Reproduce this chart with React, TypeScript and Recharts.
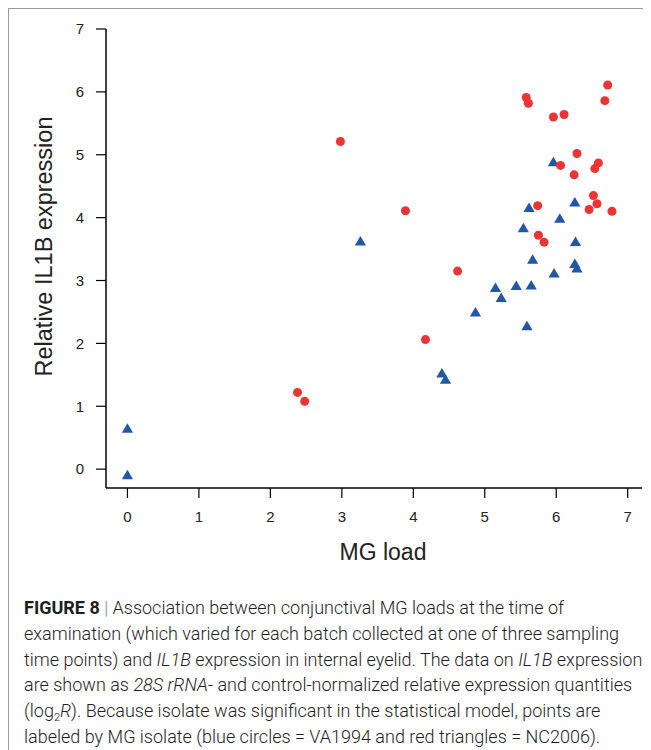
import { ScatterChart, Scatter, XAxis, YAxis, Label } from 'recharts'

// NC2006 isolate (red circles in the figure)
const redLoad = [6.72, 5.58, 5.61, 6.68, 5.96, 6.11, 6.29, 6.06, 6.59, 6.54, 6.25, 6.52, 6.57, 6.46, 6.78, 5.74, 3.89, 5.75, 5.83, 4.62, 2.98, 2.38, 2.48, 4.17]
const redExpr = [6.11, 5.91, 5.82, 5.86, 5.6, 5.64, 5.02, 4.83, 4.87, 4.78, 4.68, 4.35, 4.22, 4.13, 4.1, 4.19, 4.11, 3.72, 3.61, 3.15, 5.21, 1.22, 1.08, 2.06]

// VA1994 isolate (blue triangles)
const blueLoad = [5.96, 5.62, 6.26, 6.05, 5.54, 6.27, 5.67, 6.26, 6.29, 5.97, 5.15, 5.44, 5.65, 5.23, 4.87, 5.59, 4.4, 4.45, 3.26, 0, 0]
const blueExpr = [4.89, 4.16, 4.25, 3.99, 3.84, 3.62, 3.34, 3.27, 3.2, 3.12, 2.89, 2.92, 2.93, 2.73, 2.5, 2.28, 1.53, 1.43, 3.63, 0.65, -0.09]

const xTicks = [0, 1, 2, 3, 4, 5, 6, 7]
const yTicks = [0, 1, 2, 3, 4, 5, 6, 7]

const RED = '#ec3434'
const BLUE = '#2157a6'
const FONT = '"Liberation Sans", Arial, sans-serif'

const redData = redLoad.map((x, i) => ({ x, y: redExpr[i] }))
const blueData = blueLoad.map((x, i) => ({ x, y: blueExpr[i] }))

function Dot(props: any) {
  const { cx, cy } = props
  return <circle cx={cx} cy={cy} r={4.5} fill={RED} />
}

function Tri(props: any) {
  const { cx, cy } = props
  const pts = `${cx},${cy - 5} ${cx - 5.6},${cy + 4.5} ${cx + 5.6},${cy + 4.5}`
  return <polygon points={pts} fill={BLUE} />
}

const tickStyle = { fontSize: 15, fill: '#222', fontFamily: FONT }

export default function App() {
  return (
    <div
      style={{
        width: 642,
        height: 760,
        borderTop: '1px solid #999',
        borderLeft: '1px solid #999',
        fontFamily: FONT,
      }}
    >
      <style>{'html,body{overflow:hidden}'}</style>
      <ScatterChart
        width={642}
        height={560}
        margin={{ top: 20, right: 9, left: 0, bottom: 1 }}
      >
        <XAxis
          type="number"
          dataKey="x"
          domain={[-0.3, 7.2]}
          ticks={xTicks}
          allowDataOverflow
          height={80}
          tickSize={10}
          tickMargin={13}
          tick={tickStyle}
          axisLine={{ stroke: '#000', strokeWidth: 1.5 }}
          tickLine={{ stroke: '#000', strokeWidth: 1.2 }}
        >
          <Label
            content={({ viewBox }: any) => (
              <text
                x={viewBox.x + viewBox.width / 2 + 9}
                y={viewBox.y + 72}
                textAnchor="middle"
                fontSize={23}
                fontFamily={FONT}
                fill="#222"
              >
                MG load
              </text>
            )}
          />
        </XAxis>
        <YAxis
          type="number"
          dataKey="y"
          domain={[-0.3, 7]}
          ticks={yTicks}
          allowDataOverflow
          width={97}
          tickSize={10}
          tickMargin={12}
          tick={tickStyle}
          axisLine={{ stroke: '#000', strokeWidth: 1.5 }}
          tickLine={{ stroke: '#000', strokeWidth: 1.2 }}
        >
          <Label
            content={({ viewBox }: any) => {
              const cx = 35
              const cy = viewBox.y + viewBox.height / 2 - 12
              return (
                <text
                  x={cx}
                  y={cy}
                  transform={`rotate(-90 ${cx} ${cy})`}
                  textAnchor="middle"
                  dominantBaseline="central"
                  fontSize={23.5}
                  fontFamily={FONT}
                  fill="#222"
                >
                  Relative IL1B expression
                </text>
              )
            }}
          />
        </YAxis>
        <Scatter data={blueData} shape={<Tri />} isAnimationActive={false} />
        <Scatter data={redData} shape={<Dot />} isAnimationActive={false} />
      </ScatterChart>
      <div
        style={{
          marginTop: 26,
          paddingLeft: 15,
          fontSize: 18,
          lineHeight: '25.8px',
          color: '#1e1e1e',
          fontFamily: 'Roboto, "Liberation Sans", sans-serif',
          fontWeight: 300,
          whiteSpace: 'nowrap',
        }}
      >
        <div>
          <b style={{ fontWeight: 700 }}>FIGURE 8</b>{' '}
          <span style={{ color: '#888' }}>|</span> Association between
          conjunctival MG loads at the time of
        </div>
        <div>
          examination (which varied for each batch collected at one of three
          sampling
        </div>
        <div>
          time points) and <i>IL1B</i> expression in internal eyelid. The data
          on <i>IL1B</i> expression
        </div>
        <div>
          are shown as <i>28S rRNA</i>- and control-normalized relative
          expression quantities
        </div>
        <div>
          (log
          <span
            style={{
              fontSize: 11,
              position: 'relative',
              top: 4,
              lineHeight: 0,
            }}
          >
            2
          </span>
          <i>R</i>). Because isolate was significant in the statistical model,
          points are
        </div>
        <div>
          labeled by MG isolate (blue circles = VA1994 and red triangles =
          NC2006).
        </div>
      </div>
    </div>
  )
}
